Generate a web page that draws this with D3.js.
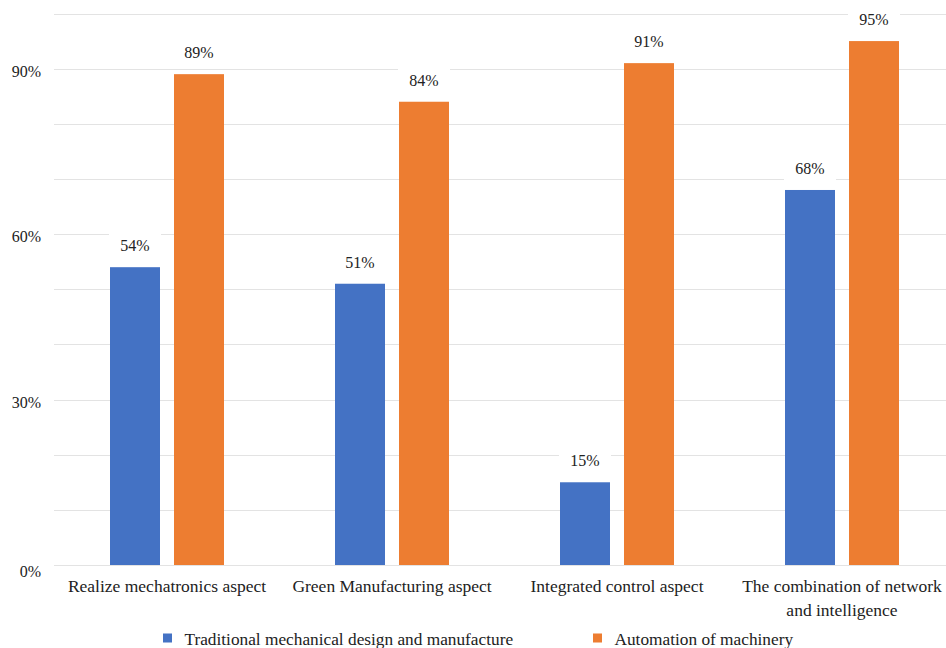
<!DOCTYPE html>
<html>
<head>
<meta charset="utf-8">
<script src="https://cdn.jsdelivr.net/npm/d3@7"></script>
<style>
  body { margin: 0; background: #fff; }
  svg, svg text, svg tspan { font-family: "Liberation Serif", "Times New Roman", Tinos, serif !important; }
</style>
</head>
<body>
<script>
var categories = [
  ["Realize mechatronics aspect"],
  ["Green Manufacturing aspect"],
  ["Integrated control aspect"],
  ["The combination of network", "and intelligence"]
];
var seriesNames = ["Traditional mechanical design and manufacture", "Automation of machinery"];
var traditional = [54, 51, 15, 68];
var automation = [89, 84, 91, 95];
var yTicks = [0, 30, 60, 90];
var gridTicks = [0, 10, 20, 30, 40, 50, 60, 70, 80, 90, 100];
var colors = ["#4472C4", "#ED7D31"];

var W = 946, H = 648;
var FONT = "Liberation Serif";
var svg = d3.select("body").append("svg").attr("width", W).attr("height", H)
  .attr("font-family", FONT);

var x = d3.scaleBand().domain(d3.range(categories.length)).range([54.5, 954.5]);
var xs = d3.scaleBand().domain([0, 1]).range([55.5, 169.5]).paddingInner(14 / 64);
var y = d3.scaleLinear().domain([0, 100]).range([565, 13.5]);

function txt(sel, size) {
  return sel.attr("font-family", FONT).attr("font-size", size || 16).attr("fill", "#222");
}

// grid
svg.append("g").selectAll("line").data(gridTicks).enter().append("line")
  .attr("x1", 54).attr("x2", W)
  .attr("y1", function(d) { return Math.round(y(d)) + 0.5; })
  .attr("y2", function(d) { return Math.round(y(d)) + 0.5; })
  .attr("stroke", "#e3e3e3").attr("stroke-width", 1.2);

// y labels
txt(svg.append("g").selectAll("text").data(yTicks).enter().append("text"))
  .attr("x", 41).attr("y", function(d) { return y(d) + (d === 0 ? 12 : 8); })
  .attr("text-anchor", "end")
  .text(function(d) { return d + "%"; });

var rows = [traditional, automation];
rows.forEach(function(vals, s) {
  var g = svg.append("g");
  g.selectAll("rect").data(vals).enter().append("rect")
    .attr("x", function(d, i) { return x(i) + xs(s); })
    .attr("width", xs.bandwidth())
    .attr("y", function(d) { return y(d); })
    .attr("height", function(d) { return y(0) - y(d); })
    .attr("fill", colors[s]);

  var lab = g.selectAll("g.lab").data(vals).enter().append("g")
    .attr("transform", function(d, i) {
      return "translate(" + (x(i) + xs(s) + xs.bandwidth() / 2) + "," + (y(d) - 21) + ")";
    });
  lab.append("rect").attr("x", -26).attr("y", -14).attr("width", 52).attr("height", 26).attr("fill", "#fff");
  txt(lab.append("text")).attr("text-anchor", "middle").attr("y", 5)
    .text(function(d) { return d + "%"; });
});

// category labels
var cl = txt(svg.append("g").selectAll("text").data(categories).enter().append("text"), 17.5)
  .attr("text-anchor", "middle")
  .attr("transform", function(d, i) { return "translate(" + (x(i) + x.bandwidth() / 2) + ",592)"; });
cl.selectAll("tspan").data(function(d) { return d; }).enter().append("tspan")
  .attr("x", 0).attr("dy", function(d, j) { return j === 0 ? 0 : 24; })
  .text(function(d) { return d; });

// legend
var legX = [163, 593];
var leg = svg.append("g").selectAll("g").data(seriesNames).enter().append("g")
  .attr("transform", function(d, i) { return "translate(" + legX[i] + ",638)"; });
leg.append("rect").attr("x", 0).attr("y", -4.5).attr("width", 9).attr("height", 9)
  .attr("fill", function(d, i) { return colors[i]; });
txt(leg.append("text"), 17.3).attr("x", 21.5).attr("y", 6.5)
  .text(function(d) { return d; });
</script>
</body>
</html>
